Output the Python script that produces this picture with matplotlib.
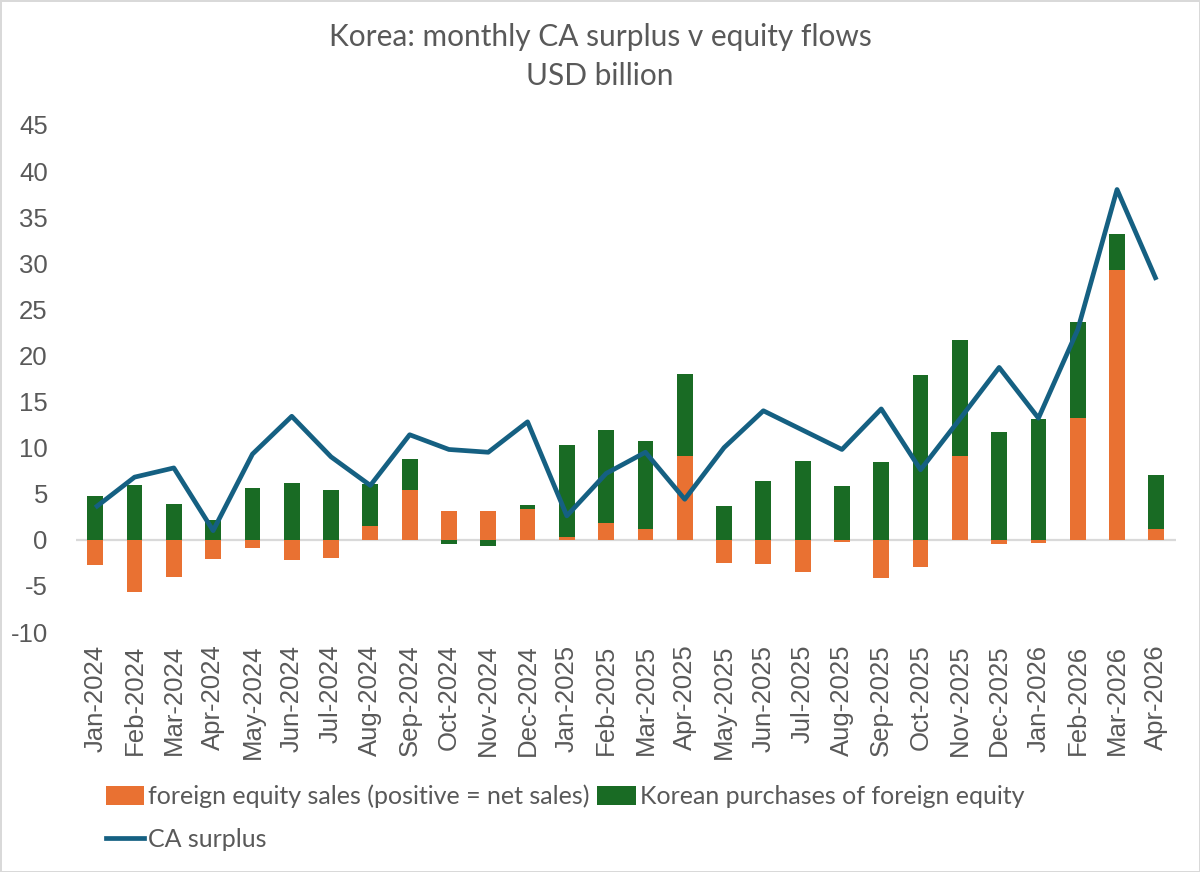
import matplotlib
matplotlib.use("Agg")
import matplotlib.pyplot as plt
import numpy as np
from matplotlib.patches import Patch
from matplotlib.lines import Line2D

plt.rcParams["axes.unicode_minus"] = False

months = ["Jan-2024", "Feb-2024", "Mar-2024", "Apr-2024", "May-2024", "Jun-2024",
          "Jul-2024", "Aug-2024", "Sep-2024", "Oct-2024", "Nov-2024", "Dec-2024",
          "Jan-2025", "Feb-2025", "Mar-2025", "Apr-2025", "May-2025", "Jun-2025",
          "Jul-2025", "Aug-2025", "Sep-2025", "Oct-2025", "Nov-2025", "Dec-2025",
          "Jan-2026", "Feb-2026", "Mar-2026", "Apr-2026"]

foreign_sales = [-2.7, -5.7, -4.0, -2.1, -0.9, -2.2, -2.0, 1.5, 5.4, 3.1, 3.1, 3.3,
                 0.3, 1.8, 1.2, 9.1, -2.5, -2.6, -3.5, -0.2, -4.1, -3.0, 9.1, -0.5,
                 -0.3, 13.2, 29.3, 1.2]

korean_purchases = [4.8, 5.9, 3.9, 2.2, 5.6, 6.2, 5.4, 4.6, 3.4, -0.5, -0.7, 0.5,
                    10.0, 10.1, 9.5, 8.9, 3.7, 6.4, 8.6, 5.8, 8.4, 17.9, 12.6, 11.7,
                    13.1, 10.4, 3.9, 5.8]

ca_surplus = [3.5, 6.8, 7.8, 1.0, 9.3, 13.4, 9.0, 5.9, 11.4, 9.8, 9.5, 12.8,
              2.6, 7.2, 9.5, 4.4, 10.0, 14.0, 11.9, 9.8, 14.2, 7.6, 13.1, 18.7,
              13.2, 22.8, 38.0, 28.2]

c_orange = "#E97132"
c_green = "#196B24"
c_line = "#156082"
c_text = "#595959"

fig = plt.figure(figsize=(12, 8.72), dpi=100)
fig.patch.set_edgecolor("#D9D9D9")
fig.patch.set_linewidth(2)
ax = fig.add_axes([0.063, 0.2752, 0.917, 0.5815])

x = np.arange(len(months))
fs = np.array(foreign_sales)
kp = np.array(korean_purchases)
green_bottom = np.where(kp >= 0, np.maximum(fs, 0), np.minimum(fs, 0))

w = 0.4
ax.bar(x, fs, width=w, color=c_orange, zorder=2)
ax.bar(x, kp, width=w, bottom=green_bottom, color=c_green, zorder=2)
ax.plot(x, ca_surplus, color=c_line, linewidth=3.4, solid_joinstyle="round",
        solid_capstyle="butt", zorder=3)

ax.axhline(0, color="#D9D9D9", linewidth=1.6, zorder=1)
ax.set_xlim(-0.5, len(months) - 0.5)
ax.set_ylim(-10, 45)
ax.set_yticks(np.arange(-10, 46, 5))
ax.set_xticks(x)
ax.set_xticklabels(months, rotation=90)
for s in ax.spines.values():
    s.set_visible(False)
ax.tick_params(axis="both", length=0, colors=c_text, labelsize=18.5,
               labelfontfamily="Liberation Sans")
ax.tick_params(axis="y", pad=20)
ax.tick_params(axis="x", pad=9)

title_font = ["Lato", "DejaVu Sans"]
fig.text(0.5, 0.957, "Korea: monthly CA surplus v equity flows", ha="center", va="center",
         fontsize=21.5, color=c_text, family=title_font)
fig.text(0.5, 0.913, "USD billion", ha="center", va="center",
         fontsize=21.5, color=c_text, family=title_font)

handles = [Patch(facecolor=c_orange), Line2D([], [], color=c_line, linewidth=3.4),
           Patch(facecolor=c_green)]
labels = ["foreign equity sales (positive = net sales)", "CA surplus",
          "Korean purchases of foreign equity"]
leg = fig.legend(handles, labels, ncol=2, loc="upper left", bbox_to_anchor=(0.088, 0.1),
                 bbox_transform=fig.transFigure, frameon=False,
                 prop={"family": title_font, "size": 18},
                 handlelength=1.55, handleheight=0.8, handletextpad=0.15,
                 columnspacing=0.3, labelspacing=0.8, borderaxespad=0, borderpad=0)
for t in leg.get_texts():
    t.set_color(c_text)

fig.savefig("out.png", dpi=100, edgecolor=fig.get_edgecolor())
